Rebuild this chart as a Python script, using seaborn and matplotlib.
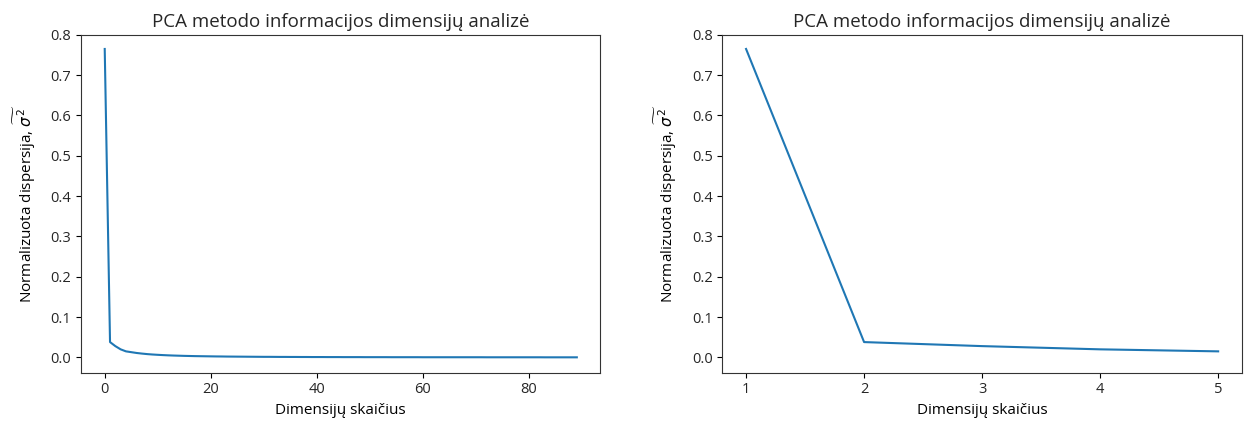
import matplotlib
matplotlib.use("Agg")
import matplotlib.pyplot as plt
import seaborn as sns
import numpy as np
import pandas as pd

# Normalized explained variance per PCA dimension
variance_all = [
    0.765, 0.038, 0.028, 0.020, 0.015, 0.013, 0.011, 0.0095, 0.0082, 0.0072,
    0.0064, 0.0057, 0.0051, 0.0046, 0.0042, 0.0038, 0.0035, 0.0032, 0.0030, 0.0028,
    0.0026, 0.0024, 0.0023, 0.0021, 0.0020, 0.0019, 0.0018, 0.0017, 0.0016, 0.0015,
    0.0014, 0.0014, 0.0013, 0.0012, 0.0012, 0.0011, 0.0011, 0.0010, 0.0010, 0.0009,
    0.0009, 0.0009, 0.0008, 0.0008, 0.0008, 0.0007, 0.0007, 0.0007, 0.0007, 0.0006,
    0.0006, 0.0006, 0.0006, 0.0006, 0.0005, 0.0005, 0.0005, 0.0005, 0.0005, 0.0005,
    0.0004, 0.0004, 0.0004, 0.0004, 0.0004, 0.0004, 0.0004, 0.0004, 0.0004, 0.0004,
    0.0004, 0.0004, 0.0003, 0.0003, 0.0003, 0.0003, 0.0003, 0.0003, 0.0003, 0.0003,
    0.0003, 0.0003, 0.0003, 0.0002, 0.0002, 0.0002, 0.0002, 0.0002, 0.0002, 0.0002,
]
dims_all = list(range(len(variance_all)))

dims_top = [1, 2, 3, 4, 5]
variance_top = [0.765, 0.038, 0.028, 0.020, 0.015]

title = "PCA metodo informacijos dimensijų analizė"
xlabel = "Dimensijų skaičius"
ylabel = r"Normalizuota dispersija, $\widetilde{\sigma^2}$"

plt.rcParams['font.family'] = ['Open Sans', 'DejaVu Sans']
plt.rcParams['mathtext.fontset'] = 'dejavusans'
plt.rcParams['text.color'] = '#262626'
plt.rcParams['xtick.labelcolor'] = '#262626'
plt.rcParams['ytick.labelcolor'] = '#262626'

fig, axes = plt.subplots(1, 2, figsize=(12.48, 4.25), dpi=100)
fig.subplots_adjust(left=0.065, right=0.995, bottom=0.123, top=0.918, wspace=0.235)

color = "#1f77b4"
sns.lineplot(x=dims_all, y=variance_all, ax=axes[0], color=color, linewidth=1.5)
sns.lineplot(x=dims_top, y=variance_top, ax=axes[1], color=color, linewidth=1.5)

for ax in axes:
    ax.set_title(title, fontsize=13.5)
    ax.set_xlabel(xlabel, fontsize=11)
    ax.set_ylabel(ylabel, fontsize=11, labelpad=9)
    ax.tick_params(labelsize=10.5)
    for s in ax.spines.values():
        s.set_color('#333333')

axes[0].set_xticks([0, 20, 40, 60, 80])
axes[1].set_xticks([1, 2, 3, 4, 5])
for ax in axes:
    ax.set_yticks([0.0, 0.1, 0.2, 0.3, 0.4, 0.5, 0.6, 0.7, 0.8])
    ax.set_ylim(-0.038, 0.8)

fig.savefig("out.png", dpi=100)
